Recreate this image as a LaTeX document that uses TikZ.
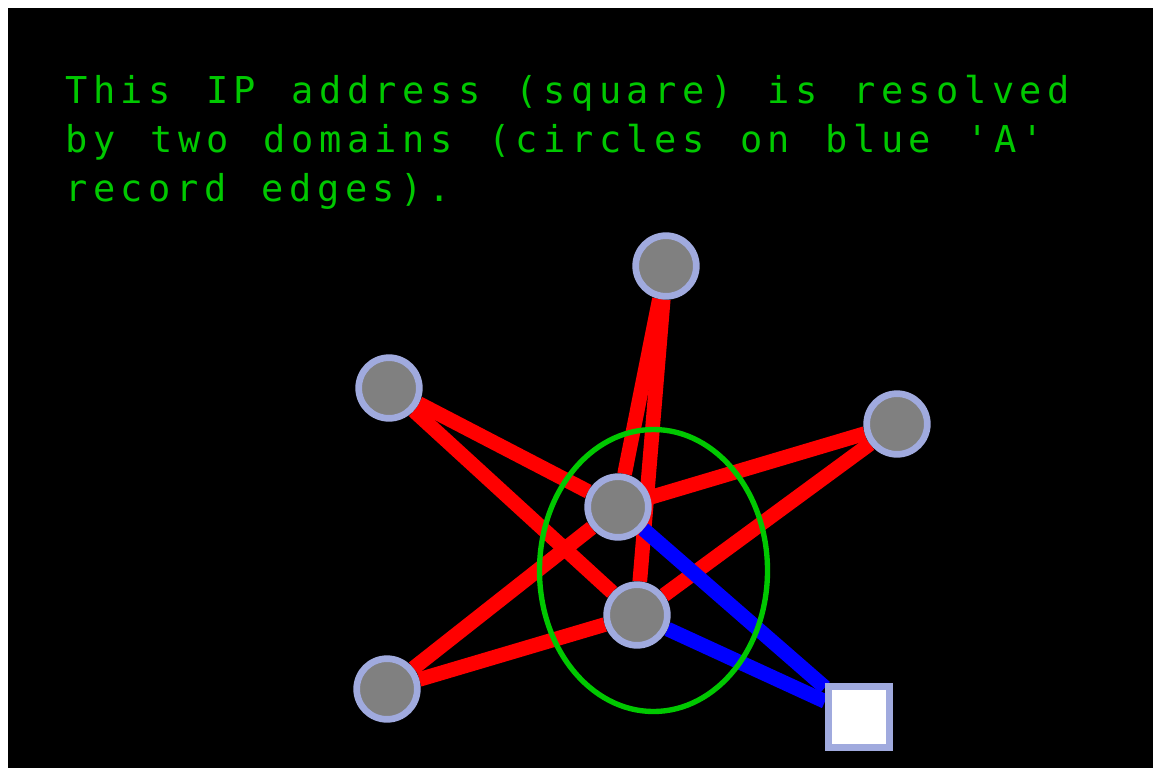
\documentclass[tikz,border=0pt]{standalone}
\usepackage{fontspec}
\usepackage{tikz}
\usetikzlibrary{backgrounds}
\newfontfamily\termfont[LetterSpace=14.9,WordSpace=1.27]{DejaVu Sans Mono}
\definecolor{termgreen}{RGB}{0,200,0}
\definecolor{ringblue}{RGB}{160,170,222}
\definecolor{nodegray}{RGB}{128,128,128}
\tikzset{
	dnsnode/.style={circle,draw=ringblue,fill=nodegray,line width=5pt,minimum size=45.5pt,inner sep=0pt},
	ipaddr/.style={rectangle,draw=ringblue,fill=white,line width=5.25pt,minimum width=45.75pt,minimum height=45.75pt,inner sep=0pt},
	link/.style={draw=red,line width=11pt},
	arec/.style={draw=blue,line width=11pt}
}
\begin{document}
\begin{tikzpicture}[x=0.75pt,y=-0.75pt]
		\node[anchor=base west,align=left,inner sep=0pt,text=termgreen,font={\termfont\fontsize{27.75}{36.75}\selectfont}] (caption) at (65,201) {This IP address (square) is resolved\\by two domains (circles on blue 'A'\\record edges).};

		\node[dnsnode] (top) at (666,266) {};
		\node[dnsnode] (upleft) at (389,388) {};
		\node[dnsnode] (right) at (897,424) {};
		\node[dnsnode] (midup) at (618,507) {};
		\node[dnsnode] (midlow) at (637,615) {};
		\node[dnsnode] (lowleft) at (387,689) {};
		\node[ipaddr] (ip) at (859,717) {};

		\begin{scope}[on background layer]
			\fill[white] (0,0) rectangle (1153,768);
			\fill[black] (8,8) rectangle (1153,768);
			\draw[link] (top) -- (midup);
			\draw[link] (top) -- (midlow);
			\draw[link] (upleft) -- (midup);
			\draw[link] (upleft) -- (midlow);
			\draw[link] (right) -- (midup);
			\draw[link] (right) -- (midlow);
			\draw[link] (lowleft) -- (midup);
			\draw[link] (lowleft) -- (midlow);
			\draw[arec] (midup) -- (ip);
			\draw[arec] (midlow) -- (ip);
		\end{scope}

		\draw[termgreen,line width=4pt] (653.5,570.5) ellipse [x radius=114, y radius=141];
	\end{tikzpicture}
\end{document}
